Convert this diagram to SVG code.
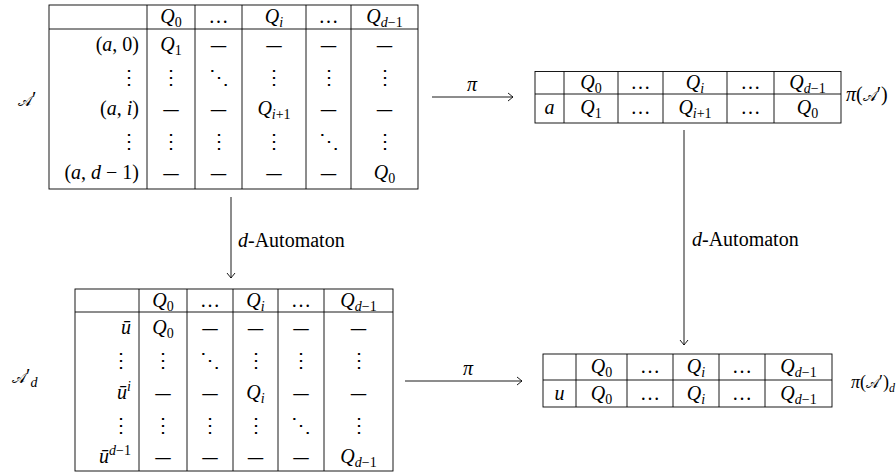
<svg xmlns="http://www.w3.org/2000/svg" width="896" height="472" viewBox="0 0 896 472">
<defs>
<style>
.t{font-family:"Liberation Serif","DejaVu Serif",serif;font-size:20px;fill:#000}
.i{font-style:italic}
.c{text-anchor:middle}
.r{text-anchor:end}
.s{font-size:14px}
.m{font-size:15px;font-style:normal}
.g{stroke:#000;stroke-width:0.9;fill:none}
.d{font-family:"DejaVu Serif","Liberation Serif",serif;font-size:17px}
.a{stroke:#000;stroke-width:0.9;fill:none;marker-end:url(#arr)}
</style>
<marker id="arr" viewBox="-6 -5 8 10" refX="0" refY="0" markerWidth="8" markerHeight="10" markerUnits="userSpaceOnUse" orient="auto">
<path d="M-5,-4 Q-1,-0.8 0,0 Q-1,0.8 -5,4" fill="none" stroke="#000" stroke-width="0.9"/>
</marker>
</defs>
<rect width="896" height="472" fill="#fff"/>

<g id="node-A">
<text class="t" x="18" y="106"><tspan class="m">𝒜</tspan>′</text>
<rect class="g" x="49" y="5" width="369" height="184"/>
<path class="g" d="M49,29H418M147,5V189M195,5V189M242,5V189M306,5V189M351,5V189"/>
<text class="t c" x="171" y="23"><tspan class="i">Q</tspan><tspan class="s" dy="4">0</tspan></text>
<text class="t c" x="218.5" y="23">…</text>
<text class="t c" x="274" y="23"><tspan class="i">Q</tspan><tspan class="s i" dy="4">i</tspan></text>
<text class="t c" x="328.5" y="23">…</text>
<text class="t c" x="384.5" y="23"><tspan class="i">Q</tspan><tspan class="s" dy="4"><tspan class="i">d</tspan>−1</tspan></text>

<text class="t r" x="139" y="51">(<tspan class="i">a</tspan>, 0)</text>
<text class="t c" x="171" y="51"><tspan class="i">Q</tspan><tspan class="s" dy="4">1</tspan></text>
<text class="t c d" x="218.5" y="51">—</text>
<text class="t c d" x="274" y="51">—</text>
<text class="t c d" x="328.5" y="51">—</text>
<text class="t c d" x="384.5" y="51">—</text>

<text class="t r" x="139" y="84">⋮</text>
<text class="t c" x="171" y="84">⋮</text>
<text class="t c" x="218.5" y="84">⋱</text>
<text class="t c" x="274" y="84">⋮</text>
<text class="t c" x="328.5" y="84">⋮</text>
<text class="t c" x="384.5" y="84">⋮</text>

<text class="t r" x="139" y="115">(<tspan class="i">a</tspan>, <tspan class="i">i</tspan>)</text>
<text class="t c d" x="171" y="115">—</text>
<text class="t c d" x="218.5" y="115">—</text>
<text class="t c" x="274" y="115"><tspan class="i">Q</tspan><tspan class="s" dy="4"><tspan class="i">i</tspan>+1</tspan></text>
<text class="t c d" x="328.5" y="115">—</text>
<text class="t c d" x="384.5" y="115">—</text>

<text class="t r" x="139" y="148">⋮</text>
<text class="t c" x="171" y="148">⋮</text>
<text class="t c" x="218.5" y="148">⋮</text>
<text class="t c" x="274" y="148">⋮</text>
<text class="t c" x="328.5" y="148">⋱</text>
<text class="t c" x="384.5" y="148">⋮</text>

<text class="t r" x="139" y="179">(<tspan class="i">a</tspan>, <tspan class="i">d</tspan> − 1)</text>
<text class="t c d" x="171" y="179">—</text>
<text class="t c d" x="218.5" y="179">—</text>
<text class="t c d" x="274" y="179">—</text>
<text class="t c d" x="328.5" y="179">—</text>
<text class="t c" x="384.5" y="179"><tspan class="i">Q</tspan><tspan class="s" dy="4">0</tspan></text>
</g>

<g id="node-piA">
<rect class="g" x="535" y="71.5" width="306" height="51.5"/>
<path class="g" d="M535,94H841M564,71.5V123M618,71.5V123M663,71.5V123M727,71.5V123M774,71.5V123"/>
<text class="t c" x="591" y="89"><tspan class="i">Q</tspan><tspan class="s" dy="4">0</tspan></text>
<text class="t c" x="640.5" y="89">…</text>
<text class="t c" x="695" y="89"><tspan class="i">Q</tspan><tspan class="s i" dy="4">i</tspan></text>
<text class="t c" x="750.5" y="89">…</text>
<text class="t c" x="807.5" y="89"><tspan class="i">Q</tspan><tspan class="s" dy="4"><tspan class="i">d</tspan>−1</tspan></text>
<text class="t c i" x="549.5" y="114">a</text>
<text class="t c" x="591" y="114"><tspan class="i">Q</tspan><tspan class="s" dy="4">1</tspan></text>
<text class="t c" x="640.5" y="114">…</text>
<text class="t c" x="695" y="114"><tspan class="i">Q</tspan><tspan class="s" dy="4"><tspan class="i">i</tspan>+1</tspan></text>
<text class="t c" x="750.5" y="114">…</text>
<text class="t c" x="807.5" y="114"><tspan class="i">Q</tspan><tspan class="s" dy="4">0</tspan></text>
<text class="t" x="846" y="101"><tspan class="i">π</tspan>(<tspan class="m">𝒜</tspan>′)</text>
</g>

<g id="node-Ad">
<text class="t" x="12" y="383"><tspan class="m">𝒜</tspan>′<tspan class="s i" dy="4">d</tspan></text>
<rect class="g" x="75" y="289" width="318" height="182"/>
<path class="g" d="M75,312H393M139,289V471M187,289V471M233,289V471M278,289V471M324,289V471"/>
<text class="t c" x="163" y="307"><tspan class="i">Q</tspan><tspan class="s" dy="4">0</tspan></text>
<text class="t c" x="210" y="307">…</text>
<text class="t c" x="255.5" y="307"><tspan class="i">Q</tspan><tspan class="s i" dy="4">i</tspan></text>
<text class="t c" x="301" y="307">…</text>
<text class="t c" x="358.5" y="307"><tspan class="i">Q</tspan><tspan class="s" dy="4"><tspan class="i">d</tspan>−1</tspan></text>

<text class="t r i" x="131" y="334">ū</text>
<text class="t c" x="163" y="334"><tspan class="i">Q</tspan><tspan class="s" dy="4">0</tspan></text>
<text class="t c d" x="210" y="334">—</text>
<text class="t c d" x="255.5" y="334">—</text>
<text class="t c d" x="301" y="334">—</text>
<text class="t c d" x="358.5" y="334">—</text>

<text class="t r" x="131" y="367">⋮</text>
<text class="t c" x="163" y="367">⋮</text>
<text class="t c" x="210" y="367">⋱</text>
<text class="t c" x="255.5" y="367">⋮</text>
<text class="t c" x="301" y="367">⋮</text>
<text class="t c" x="358.5" y="367">⋮</text>

<text class="t r" x="131" y="399"><tspan class="i">ū</tspan><tspan class="s i" dy="-8">i</tspan></text>
<text class="t c d" x="163" y="399">—</text>
<text class="t c d" x="210" y="399">—</text>
<text class="t c" x="255.5" y="399"><tspan class="i">Q</tspan><tspan class="s i" dy="4">i</tspan></text>
<text class="t c d" x="301" y="399">—</text>
<text class="t c d" x="358.5" y="399">—</text>

<text class="t r" x="131" y="432">⋮</text>
<text class="t c" x="163" y="432">⋮</text>
<text class="t c" x="210" y="432">⋮</text>
<text class="t c" x="255.5" y="432">⋮</text>
<text class="t c" x="301" y="432">⋱</text>
<text class="t c" x="358.5" y="432">⋮</text>

<text class="t r" x="131" y="463"><tspan class="i">ū</tspan><tspan class="s" dy="-8"><tspan class="i">d</tspan>−1</tspan></text>
<text class="t c d" x="163" y="463">—</text>
<text class="t c d" x="210" y="463">—</text>
<text class="t c d" x="255.5" y="463">—</text>
<text class="t c d" x="301" y="463">—</text>
<text class="t c" x="358.5" y="463"><tspan class="i">Q</tspan><tspan class="s" dy="4"><tspan class="i">d</tspan>−1</tspan></text>
</g>

<g id="node-piAd">
<rect class="g" x="543" y="354" width="289" height="53"/>
<path class="g" d="M543,380H832M576,354V407M627,354V407M673,354V407M719,354V407M765,354V407"/>
<text class="t c" x="601.5" y="373"><tspan class="i">Q</tspan><tspan class="s" dy="4">0</tspan></text>
<text class="t c" x="650" y="373">…</text>
<text class="t c" x="696" y="373"><tspan class="i">Q</tspan><tspan class="s i" dy="4">i</tspan></text>
<text class="t c" x="742" y="373">…</text>
<text class="t c" x="798.5" y="373"><tspan class="i">Q</tspan><tspan class="s" dy="4"><tspan class="i">d</tspan>−1</tspan></text>
<text class="t c i" x="559.5" y="400">u</text>
<text class="t c" x="601.5" y="400"><tspan class="i">Q</tspan><tspan class="s" dy="4">0</tspan></text>
<text class="t c" x="650" y="400">…</text>
<text class="t c" x="696" y="400"><tspan class="i">Q</tspan><tspan class="s i" dy="4">i</tspan></text>
<text class="t c" x="742" y="400">…</text>
<text class="t c" x="798.5" y="400"><tspan class="i">Q</tspan><tspan class="s" dy="4"><tspan class="i">d</tspan>−1</tspan></text>
<text class="t" x="851" y="388" style="font-size:18px"><tspan class="i">π</tspan>(<tspan style="font-size:14px;font-style:normal">𝒜</tspan>′)<tspan style="font-size:12px;font-style:italic" dy="4">d</tspan></text>
</g>

<g id="connectors">
<path class="a" d="M432,97H513"/>
<text class="t c i" x="472" y="91">π</text>
<path class="a" d="M405,381H522"/>
<text class="t c i" x="468" y="375">π</text>
<path class="a" d="M231,197V278"/>
<text class="t" x="238" y="247"><tspan class="i">d</tspan>-Automaton</text>
<path class="a" d="M684,130V345"/>
<text class="t" x="692" y="246"><tspan class="i">d</tspan>-Automaton</text>
</g>
</svg>
